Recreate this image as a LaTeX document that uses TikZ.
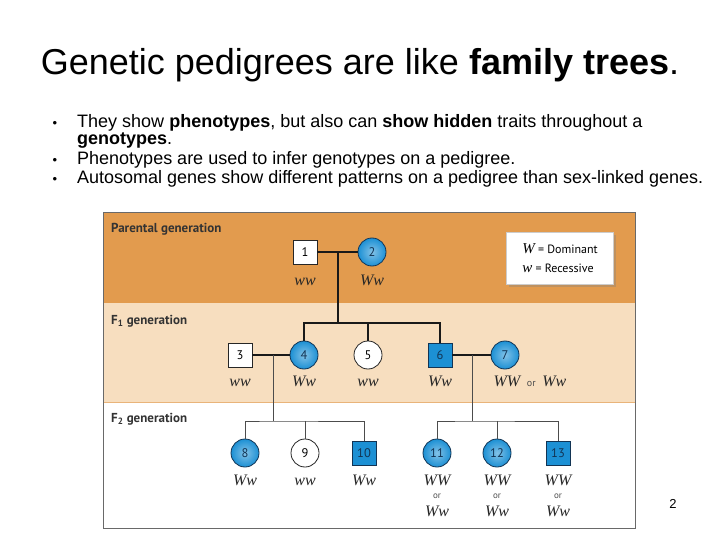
\documentclass[tikz,border=0pt]{standalone}
\usepackage{fontspec}
\setmainfont{Liberation Sans}
\newfontfamily\genofont{Liberation Serif}
\newfontfamily\figfont{PT Sans}
\usetikzlibrary{shadows}

\definecolor{parentband}{RGB}{226,155,78}
\definecolor{foneband}{RGB}{247,222,191}
\definecolor{nodeblue}{RGB}{28,144,212}
\definecolor{nodeedge}{RGB}{18,52,84}
\definecolor{boxline}{RGB}{105,105,105}

\tikzset{
  male/.style={draw=black!85,line width=0.8pt,fill=white,minimum size=24pt,inner sep=0pt,font=\figfont\fontsize{12.5}{12.5}\selectfont},
  female/.style={circle,draw=black!85,line width=0.8pt,fill=white,minimum size=28pt,inner sep=0pt,font=\figfont\fontsize{12.5}{12.5}\selectfont},
  affm/.style={fill=nodeblue,draw=nodeedge,text=nodeedge},
  afff/.style={inner color=nodeblue!55!white,outer color=nodeblue,draw=nodeedge,text=nodeedge},
  geno/.style={anchor=base,inner sep=0pt,font=\genofont\itshape\fontsize{16}{16}\selectfont,text=black!85},
  ortext/.style={anchor=base,inner sep=0pt,font=\figfont\fontsize{9}{9}\selectfont,text=black!70},
  genlabel/.style={anchor=base west,inner sep=0pt,font=\figfont\bfseries\fontsize{13}{13}\selectfont,text=black!80},
  kin/.style={line width=1.1pt,draw=black!90},
  kinthin/.style={line width=0.7pt,draw=black!70},
  bullettext/.style={anchor=base west,inner sep=0pt,font=\fontsize{18}{18}\selectfont},
  bulletdot/.style={anchor=base,inner sep=0pt,font=\fontsize{13}{13}\selectfont},
}

\begin{document}
\begin{tikzpicture}[x=1pt,y=-1pt]
\useasboundingbox (0,0) rectangle (720,540);
\fill[white] (0,0) rectangle (720,540);

\node[anchor=base,inner sep=0pt,font=\fontsize{36}{36}\selectfont] (title) at (360,75) {Genetic pedigrees are like \textbf{family trees}.};

\node[bulletdot] (b1) at (55,128) {\textbullet};
\node[bullettext] (t1) at (77,128) {They show \textbf{phenotypes}, but also can \textbf{show hidden} traits throughout a};
\node[bullettext] (t1b) at (77,145) {\textbf{genotypes}.};
\node[bulletdot] (b2) at (55,165) {\textbullet};
\node[bullettext] (t2) at (77,165) {Phenotypes are used to infer genotypes on a pedigree.};
\node[bulletdot] (b3) at (55,184) {\textbullet};
\node[bullettext] (t3) at (77,184) {Autosomal genes show different patterns on a pedigree than sex-linked genes.};

\fill[parentband] (103,213) rectangle (635,303);
\fill[foneband] (103,303) rectangle (635,402);
\draw[parentband!75,line width=0.6pt] (103,402) -- (635,402);
\draw[boxline,line width=1pt] (103,213) rectangle (635,528);

\node[genlabel] (lp) at (111,233) {Parental generation};
\node[genlabel] (lf1) at (111,324) {F\textsubscript{1} generation};
\node[genlabel] (lf2) at (111,422) {F\textsubscript{2} generation};

\node[draw=black!20,fill=white,drop shadow={opacity=0.35},minimum width=107pt,minimum height=52pt,align=left,font=\figfont\fontsize{12}{19}\selectfont] (key) at (560,258) {{\genofont\itshape\fontsize{15}{15}\selectfont W} = Dominant\\{\genofont\itshape\fontsize{15}{15}\selectfont w} = Recessive};

\node[male] (p1) at (305,252) {1};
\node[female,afff] (p2) at (372,252) {2};
\node[geno] (gp1) at (305,285) {ww};
\node[geno] (gp2) at (372,285) {Ww};

\node[male] (f3) at (240,355) {3};
\node[female,afff] (f4) at (304,355) {4};
\node[female] (f5) at (368,355) {5};
\node[male,affm] (f6) at (440,355) {6};
\node[female,afff] (f7) at (505,355) {7};
\node[geno] (gf3) at (240,386) {ww};
\node[geno] (gf4) at (304,386) {Ww};
\node[geno] (gf5) at (368,386) {ww};
\node[geno] (gf6) at (440,386) {Ww};
\node[geno] (gf7) at (530,386) {WW\, {\figfont\upshape\fontsize{10}{10}\selectfont\color{black!70} or}\, Ww};

\node[female,afff] (c8) at (245,453) {8};
\node[female] (c9) at (305,453) {9};
\node[male,affm] (c10) at (364,453) {10};
\node[female,afff] (c11) at (437,453) {11};
\node[female,afff] (c12) at (497,453) {12};
\node[male,affm] (c13) at (558,453) {13};
\node[geno] (gc8) at (245,485) {Ww};
\node[geno] (gc9) at (305,485) {ww};
\node[geno] (gc10) at (364,485) {Ww};
\foreach \n/\x in {11/437,12/497,13/558}{
  \node[geno] (gca\n) at (\x,485) {WW};
  \node[ortext] (gcor\n) at (\x,498) {or};
  \node[geno] (gcb\n) at (\x,516) {Ww};
}

\coordinate (m12) at (338,252);
\coordinate (s1) at (338,323);
\coordinate (m34) at (273,355);
\coordinate (s2) at (273,421);
\coordinate (m67) at (472,355);
\coordinate (s3) at (472,421);

\draw[kin] (p1) -- (p2);
\draw[kin] (m12) -- (s1);
\draw[kin] (f4) |- (s1) -| (f6);
\draw[kin] (f5) -- (f5 |- s1);
\draw[kin] (f3) -- (f4);
\draw[kin] (f6) -- (f7);
\draw[kinthin] (m34) -- (s2);
\draw[kinthin] (m67) -- (s3);
\draw[kinthin] (c8) |- (s2) -| (c10);
\draw[kinthin] (c9) -- (c9 |- s2);
\draw[kinthin] (c11) |- (s3) -| (c13);
\draw[kinthin] (c12) -- (c12 |- s3);

\node[font=\fontsize{13}{13}\selectfont] (pagenum) at (673,504) {2};
\end{tikzpicture}
\end{document}
